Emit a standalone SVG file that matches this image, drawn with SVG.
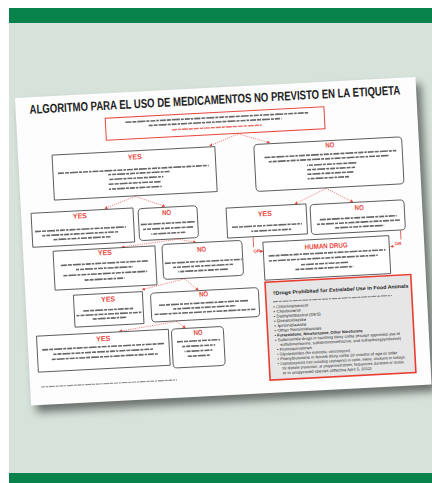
<svg xmlns="http://www.w3.org/2000/svg" width="432" height="483" viewBox="0 0 432 483">
<defs>
<style>
.bx{fill:#fff;stroke:#444;stroke-width:.85}
.rb{fill:none;stroke:#e8463c;stroke-width:1}
.lbl{font-family:"Liberation Sans",Arial,sans-serif;font-weight:bold;fill:#e8463c;text-anchor:middle}
.g{fill:none;stroke:#666;stroke-width:1.6;stroke-dasharray:6 1 4 1 8 1 3 1 5 1 2.5 1}
.gr{fill:none;stroke:#ef6a60;stroke-width:1.4;stroke-dasharray:5 1 3 1 6 1 4 1}
.cn{fill:none;stroke:#ee5a50;stroke-width:.8;stroke-dasharray:1 1.2}
.ln{fill:none;stroke:#e8463c;stroke-width:.8}
.lst{font-family:"Liberation Sans",Arial,sans-serif;font-size:3.9px;fill:#222}
</style>
<marker id="ah" viewBox="0 0 6 6" refX="5" refY="3" markerWidth="4" markerHeight="4" orient="auto"><path d="M0,0L6,3L0,6z" fill="#e8463c"/></marker>
<filter id="sh" x="-10%" y="-10%" width="125%" height="130%"><feGaussianBlur stdDeviation="4"/></filter>
</defs>
<rect width="432" height="483" fill="#fff"/>
<rect x="9" y="8" width="423" height="475" fill="#d7e2da"/>
<rect x="9" y="8" width="423" height="15" fill="#07824a"/>
<rect x="9" y="473" width="423" height="10" fill="#07824a"/>
<g transform="translate(15,98) rotate(-3)">
<rect x="5" y="7" width="401" height="308" fill="#000" opacity=".5" filter="url(#sh)"/>
<rect width="401" height="308" fill="#fdfdfd"/>
<text transform="translate(14,16.5) scale(1,1.32)" font-family="'Liberation Sans',Arial,sans-serif" font-weight="bold" font-size="9.5" fill="#222" textLength="371" lengthAdjust="spacingAndGlyphs">ALGORITMO PARA EL USO DE MEDICAMENTOS NO PREVISTO EN LA ETIQUETA</text>

<g id="connectors">
<path class="cn" d="M221,47.5L192,58" marker-end="url(#ah)"/>
<path class="cn" d="M221,47.5L252,58" marker-end="url(#ah)"/>
<path class="cn" d="M115,104.5L84,115" marker-end="url(#ah)"/>
<path class="cn" d="M115,104.5L144,116" marker-end="url(#ah)"/>
<path class="cn" d="M306,106.5L274,120.5" marker-end="url(#ah)"/>
<path class="cn" d="M306,106.5L332,121.5" marker-end="url(#ah)"/>
<path class="cn" d="M155,149.5L99,154.5" marker-end="url(#ah)"/>
<path class="cn" d="M155,149.5L173,153.5" marker-end="url(#ah)"/>
<path class="cn" d="M160,189.5L117,198" marker-end="url(#ah)"/>
<path class="cn" d="M160,189.5L173,201.5" marker-end="url(#ah)"/>
<path class="cn" d="M150,231.5L92,238.5" marker-end="url(#ah)"/>
<path class="cn" d="M150,231.5L158,238.5" marker-end="url(#ah)"/>
<path class="ln" d="M230.5,151V161.5"/>
<path class="ln" d="M236.5,166H239.5" marker-end="url(#ah)"/>
<path class="ln" d="M378,152.5V161.5"/>
<path class="ln" d="M371,168H367.5" marker-end="url(#ah)"/>
</g>

<g id="start">
<rect class="rb" x="89" y="25" width="219" height="22"/>
<path class="g" d="M109,30H292"/>
<path class="g" d="M132,34.5H265" stroke-dashoffset="2"/>
<path class="gr" d="M155,40H245"/>
</g>

<g id="yes1">
<rect class="bx" x="34" y="59" width="163" height="45"/>
<text class="lbl" x="116.5" y="67.5" font-size="7.2" textLength="14" lengthAdjust="spacingAndGlyphs">YES</text>
<path class="g" d="M39,77.5H190"/>
<path class="g" d="M89,81.5H151" stroke-dashoffset="3"/>
<path class="g" d="M89,86.3H144" stroke-dashoffset="6"/>
<path class="g" d="M89,91.1H141" stroke-dashoffset="1"/>
<path class="g" d="M89,96H142" stroke-dashoffset="4"/>
</g>

<g id="no1">
<rect class="bx" x="236" y="59" width="148" height="47" rx="4"/>
<text class="lbl" x="312" y="66" font-size="7.2" textLength="9" lengthAdjust="spacingAndGlyphs">NO</text>
<path class="g" d="M246,72.5H378"/>
<path class="g" d="M250,77H370" stroke-dashoffset="3"/>
<path class="g" d="M288,82.5H338" stroke-dashoffset="5"/>
<path class="g" d="M288,87H336" stroke-dashoffset="2"/>
<path class="g" d="M288,91.5H334" stroke-dashoffset="7"/>
<path class="g" d="M288,96H330" stroke-dashoffset="4"/>
</g>

<g id="yes2">
<rect class="bx" x="10" y="116" width="102" height="34"/>
<text class="lbl" x="58.6" y="123.5" font-size="7.2" textLength="14" lengthAdjust="spacingAndGlyphs">YES</text>
<path class="g" d="M13,134.5H104"/>
<path class="g" d="M20,139H96" stroke-dashoffset="3"/>
<path class="g" d="M30,143.5H88" stroke-dashoffset="6"/>
</g>

<g id="no2">
<rect class="bx" x="117" y="117" width="59" height="32" rx="4"/>
<text class="lbl" x="145.4" y="124.7" font-size="7.2" textLength="9" lengthAdjust="spacingAndGlyphs">NO</text>
<path class="g" d="M119,133H173"/>
<path class="g" d="M121,138H171" stroke-dashoffset="3"/>
<path class="g" d="M129,143H163" stroke-dashoffset="5"/>
</g>

<g id="yes3">
<rect class="bx" x="205" y="121" width="80" height="30"/>
<text class="lbl" x="243.4" y="131" font-size="7.2" textLength="14" lengthAdjust="spacingAndGlyphs">YES</text>
<path class="g" d="M210,140.5H280"/>
<path class="g" d="M229,145.5H269" stroke-dashoffset="4"/>
</g>

<g id="no3">
<rect class="bx" x="289" y="122" width="94" height="30" rx="4"/>
<text class="lbl" x="338" y="130" font-size="7.2" textLength="9" lengthAdjust="spacingAndGlyphs">NO</text>
<path class="g" d="M298,137.5H375"/>
<path class="g" d="M295,142H378" stroke-dashoffset="3"/>
<path class="g" d="M312,146.5H362" stroke-dashoffset="6"/>
</g>

<g id="yes4">
<rect class="bx" x="30" y="155" width="102" height="39"/>
<text class="lbl" x="81.7" y="161.5" font-size="7.2" textLength="14" lengthAdjust="spacingAndGlyphs">YES</text>
<path class="g" d="M37,169.6H124"/>
<path class="g" d="M52,174.6H109" stroke-dashoffset="3"/>
<path class="g" d="M38,180H123" stroke-dashoffset="6"/>
<path class="g" d="M60,185.5H100" stroke-dashoffset="2"/>
</g>

<g id="no4">
<rect class="bx" x="139" y="154" width="80" height="35" rx="4"/>
<text class="lbl" x="178.4" y="163.3" font-size="7.2" textLength="9" lengthAdjust="spacingAndGlyphs">NO</text>
<path class="g" d="M141,173H218"/>
<path class="g" d="M149,177.5H209" stroke-dashoffset="3"/>
<path class="g" d="M154,182H204" stroke-dashoffset="5"/>
</g>

<g id="human-drug">
<rect class="bx" x="240" y="157" width="126" height="38"/>
<text class="lbl" x="303" y="166.4" font-size="7" textLength="43" lengthAdjust="spacingAndGlyphs">HUMAN DRUG</text>
<path class="g" d="M245,171H362"/>
<path class="g" d="M245,176H354" stroke-dashoffset="3"/>
<path class="g" d="M276,181.5H324" stroke-dashoffset="6"/>
<path class="g" d="M271,186H329" stroke-dashoffset="2"/>
</g>

<g id="or-left">
<text class="lbl" x="233.5" y="167" font-size="4.5">OR</text>
</g>
<g id="or-right">
<text class="lbl" x="375" y="167" font-size="4.5">OR</text>
</g>

<g id="yes5">
<rect class="bx" x="48" y="200" width="69" height="32"/>
<text class="lbl" x="82.5" y="208.3" font-size="7.2" textLength="14" lengthAdjust="spacingAndGlyphs">YES</text>
<path class="g" d="M57,216.3H107"/>
<path class="g" d="M50,220.6H115" stroke-dashoffset="3"/>
<path class="g" d="M65,224.8H100" stroke-dashoffset="6"/>
</g>

<g id="no5">
<rect class="bx" x="125" y="202" width="108" height="29" rx="4"/>
<text class="lbl" x="178" y="208.2" font-size="7.2" textLength="9" lengthAdjust="spacingAndGlyphs">NO</text>
<path class="g" d="M133,214.5H223"/>
<path class="g" d="M147,219H210" stroke-dashoffset="3"/>
<path class="g" d="M127,223.5H229" stroke-dashoffset="6"/>
</g>

<g id="yes6">
<rect class="bx" x="9" y="239" width="132" height="36"/>
<text class="lbl" x="75.5" y="247.5" font-size="7.2" textLength="14" lengthAdjust="spacingAndGlyphs">YES</text>
<path class="g" d="M14,253H136"/>
<path class="g" d="M25,258H125" stroke-dashoffset="3"/>
<path class="g" d="M22,263H129" stroke-dashoffset="6"/>
</g>

<g id="no6">
<rect class="bx" x="144" y="239" width="52" height="39" rx="4"/>
<text class="lbl" x="170.6" y="246.3" font-size="7.2" textLength="9" lengthAdjust="spacingAndGlyphs">NO</text>
<path class="g" d="M149,252H192"/>
<path class="g" d="M154,257H187" stroke-dashoffset="3"/>
<path class="g" d="M156,262H184" stroke-dashoffset="5"/>
<path class="g" d="M159,267H181" stroke-dashoffset="2"/>
</g>

<g id="prohibited">
<rect x="240" y="197" width="146" height="98" fill="#e6e6e6" stroke="#ea3c30" stroke-width="1.6"/>
<text x="247" y="210" font-family="'Liberation Sans',Arial,sans-serif" font-weight="bold" font-size="5" fill="#222" textLength="136" lengthAdjust="spacingAndGlyphs">†Drugs Prohibited for <tspan font-style="italic">Extralabel</tspan> Use in Food Animals</text>
<path d="M247,217H366" stroke="#777" stroke-width="1" stroke-dasharray="5 .8 3 .8 6 .8 2.5 .8" fill="none"/>
<text class="lst" x="247" y="223.5" textLength="35" lengthAdjust="spacingAndGlyphs">• Chloramphenicol</text>
<text class="lst" x="247" y="228.2" textLength="27" lengthAdjust="spacingAndGlyphs">• Clenbuterol</text>
<text class="lst" x="247" y="233" textLength="47" lengthAdjust="spacingAndGlyphs">• Diethylstilbestrol (DES)</text>
<text class="lst" x="247" y="237.7" textLength="32" lengthAdjust="spacingAndGlyphs">• Dimetridazole</text>
<text class="lst" x="247" y="242.5" textLength="32" lengthAdjust="spacingAndGlyphs">• Ipronidazole</text>
<text class="lst" x="247" y="247.2" textLength="47" lengthAdjust="spacingAndGlyphs">• Other Nitroimidazoles</text>
<text class="lst" x="247" y="252" font-weight="bold" textLength="88" lengthAdjust="spacingAndGlyphs">• Furazolidone, Nitrofurazone, Other Nitrofurans</text>
<text class="lst" x="247" y="256.7" textLength="125" lengthAdjust="spacingAndGlyphs">• Sulfonamide drugs in lactating dairy cattle (except approved use of</text>
<text class="lst" x="252" y="261.5" textLength="121" lengthAdjust="spacingAndGlyphs">sulfadimethoxine, sulfabromomethazine, and sulfaethoxypyridazine)</text>
<text class="lst" x="248.5" y="266.2" textLength="35" lengthAdjust="spacingAndGlyphs">• Fluoroquinolones</text>
<text class="lst" x="248.5" y="271" textLength="73" lengthAdjust="spacingAndGlyphs">• Glycopeptides (for example, vancomycin)</text>
<text class="lst" x="248.5" y="275.7" textLength="120" lengthAdjust="spacingAndGlyphs">• Phenylbutazone in female dairy cattle 20 months of age or older</text>
<text class="lst" x="248.5" y="280.5" textLength="128" lengthAdjust="spacingAndGlyphs">• Cephalosporins (not including cephapirin) in cattle, swine, chickens or turkeys:</text>
<text class="lst" x="253" y="285.2" textLength="122" lengthAdjust="spacingAndGlyphs">for disease prevention, at unapproved doses, frequencies, durations or routes,</text>
<text class="lst" x="253" y="290" textLength="89" lengthAdjust="spacingAndGlyphs">or in unapproved species (effective April 5, 2012)</text>
</g>

<path d="M11,290H147" stroke="#8a8a8a" stroke-width="1.1" stroke-dasharray="4 .8 2 .8 6 .8 3 .8" fill="none"/>
</g>
</svg>
